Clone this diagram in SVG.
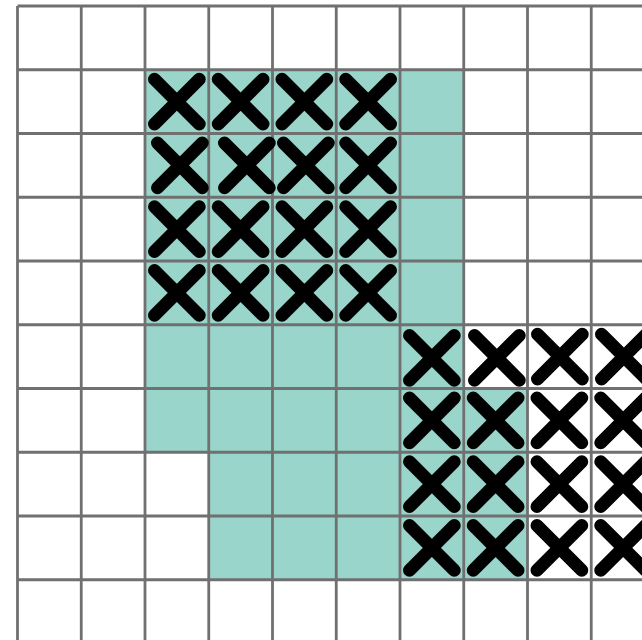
<svg xmlns="http://www.w3.org/2000/svg" xmlns:xlink="http://www.w3.org/1999/xlink" width="642" height="640" viewBox="0 0 642 640">
<style>
.teal{fill:#99d5ca}
.grid{stroke:#707070;stroke-width:2.8;fill:none}
.x{stroke:#000;stroke-width:13;stroke-linecap:round;stroke-linejoin:round;fill:none}
</style>
<defs>
<path id="cross" class="x" d="M9.5,9.5 L54.25,54.25 M54.25,9.5 L9.5,54.25"/>
</defs>
<rect width="642" height="640" fill="#fff"/>
<g id="shaded">
<rect class="teal" x="145" y="69.75" width="318.75" height="382.5"/>
<rect class="teal" x="463.75" y="388.5" width="63.75" height="191.25"/>
<rect class="teal" x="208.75" y="452.25" width="255" height="127.5"/>
</g>
<g id="grid" class="grid">
<path d="M17.5,6V640M81.25,6V640M145,6V640M208.75,6V640M272.5,6V640M336.25,6V640M400,6V640M463.75,6V640M527.5,6V640M591.25,6V640"/>
<path d="M17.5,6H642M17.5,69.75H642M17.5,133.5H642M17.5,197.25H642M17.5,261H642M17.5,324.75H642M17.5,388.5H642M17.5,452.25H642M17.5,516H642M17.5,579.75H642"/>
</g>
<g id="crosses-a">
<use xlink:href="#cross" x="145" y="69.75"/><use xlink:href="#cross" x="208.75" y="69.75"/><use xlink:href="#cross" x="272.5" y="69.75"/><use xlink:href="#cross" x="336.25" y="69.75"/>
<use xlink:href="#cross" x="148" y="133.5"/><use xlink:href="#cross" x="215" y="133.5"/><use xlink:href="#cross" x="274" y="133.5"/><use xlink:href="#cross" x="336.25" y="133.5"/>
<use xlink:href="#cross" x="145" y="197.25"/><use xlink:href="#cross" x="208.75" y="197.25"/><use xlink:href="#cross" x="272.5" y="197.25"/><use xlink:href="#cross" x="336.25" y="197.25"/>
<use xlink:href="#cross" x="145" y="261"/><use xlink:href="#cross" x="208.75" y="261"/><use xlink:href="#cross" x="272.5" y="261"/><use xlink:href="#cross" x="336.25" y="261"/>
</g>
<g id="crosses-b">
<use xlink:href="#cross" x="400" y="326"/><use xlink:href="#cross" x="465" y="326"/><use xlink:href="#cross" x="528" y="324.75"/><use xlink:href="#cross" x="592" y="324.75"/>
<use xlink:href="#cross" x="400" y="388.5"/><use xlink:href="#cross" x="463.75" y="388.5"/><use xlink:href="#cross" x="527.5" y="388.5"/><use xlink:href="#cross" x="591.25" y="388.5"/>
<use xlink:href="#cross" x="400" y="452.25"/><use xlink:href="#cross" x="463.75" y="452.25"/><use xlink:href="#cross" x="527.5" y="452.25"/><use xlink:href="#cross" x="591.25" y="452.25"/>
<use xlink:href="#cross" x="400" y="516"/><use xlink:href="#cross" x="463.75" y="516"/><use xlink:href="#cross" x="527.5" y="516"/><use xlink:href="#cross" x="591.25" y="516"/>
</g>
</svg>
